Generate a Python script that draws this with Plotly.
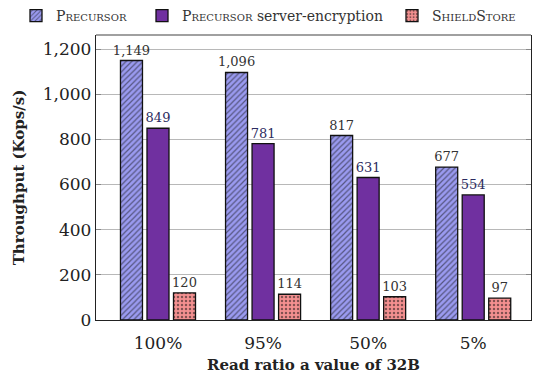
import plotly.graph_objects as go

categories = ["100%", "95%", "50%", "5%"]
precursor = [1149, 1096, 817, 677]
precursor_enc = [849, 781, 631, 554]
shieldstore = [120, 114, 103, 97]

FONT = "DejaVu Serif"
SC = '<span style="font-variant:small-caps">{}</span>'

fig = go.Figure()

fig.add_trace(go.Bar(
    name=SC.format("Precursor"), x=categories, y=precursor, legend="legend",
    marker=dict(color="#9a9af0", line=dict(color="#111111", width=1.3),
                pattern=dict(shape="/", fgcolor="#111111", bgcolor="#9a9af0",
                             size=4, solidity=0.3)),
    texttemplate="%{y:,}", textposition="outside", constraintext="none",
    textfont=dict(family=FONT, size=13, color="#333333"), cliponaxis=False,
))
fig.add_trace(go.Bar(
    name=SC.format("Precursor") + " server-encryption", x=categories, y=precursor_enc,
    legend="legend2",
    marker=dict(color="#7030a0", line=dict(color="#111111", width=1.3)),
    texttemplate="%{y:,}", textposition="outside", constraintext="none",
    textfont=dict(family=FONT, size=13, color="#2b2b60"), cliponaxis=False,
))
fig.add_trace(go.Bar(
    name=SC.format("ShieldStore"), x=categories, y=shieldstore, legend="legend3",
    marker=dict(color="#f49090", line=dict(color="#111111", width=1.3),
                pattern=dict(shape=".", fgcolor="#111111", bgcolor="#f49090",
                             size=4, solidity=0.3)),
    texttemplate="%{y:,}", textposition="outside", constraintext="none",
    textfont=dict(family=FONT, size=13, color="#333333"), cliponaxis=False,
))

W, H = 534, 379


def legend_at(px_left):
    return dict(orientation="h", xref="container", yref="container",
                x=px_left / W, xanchor="left", y=1.0, yanchor="top",
                font=dict(family=FONT, size=14, color="#333333"),
                itemwidth=30, bgcolor="rgba(0,0,0,0)")


fig.update_layout(
    width=W, height=H,
    margin=dict(l=96, r=3, t=35, b=59, autoexpand=False),
    barmode="group", bargap=0.243, bargroupgap=0.17,
    plot_bgcolor="white", paper_bgcolor="white",
    font=dict(family=FONT, size=15, color="#222222"),
    showlegend=True,
    legend=legend_at(16),
    legend2=legend_at(142),
    legend3=legend_at(392),
    xaxis=dict(range=[-0.59, 3.55], showline=True, linecolor="#222222", linewidth=1.3,
               ticks="", ticklabelstandoff=7, tickfont=dict(size=17, color="#222222"),
               title=dict(text="<b>Read ratio a value of 32B</b>", font=dict(size=15, color="#222222"),
                          standoff=7)),
    yaxis=dict(range=[0, 1262], tickvals=[0, 200, 400, 600, 800, 1000, 1200], tickformat=",d",
               showgrid=True, gridcolor="#b8b8b8", gridwidth=1,
               showline=True, linecolor="#222222", linewidth=1.3,
               ticks="inside", ticklen=5, tickcolor="#888888", mirror="ticks",
               zeroline=False, tickfont=dict(size=17, color="#222222"),
               title=dict(text="<b>Throughput (Kops/s)</b>", font=dict(size=15, color="#222222"),
                          standoff=14)),
)

# top frame line
fig.add_shape(type="line", xref="paper", yref="paper", x0=0, x1=1, y0=1, y1=1,
              line=dict(color="#808080", width=1.5))

fig.write_html("out.html")
